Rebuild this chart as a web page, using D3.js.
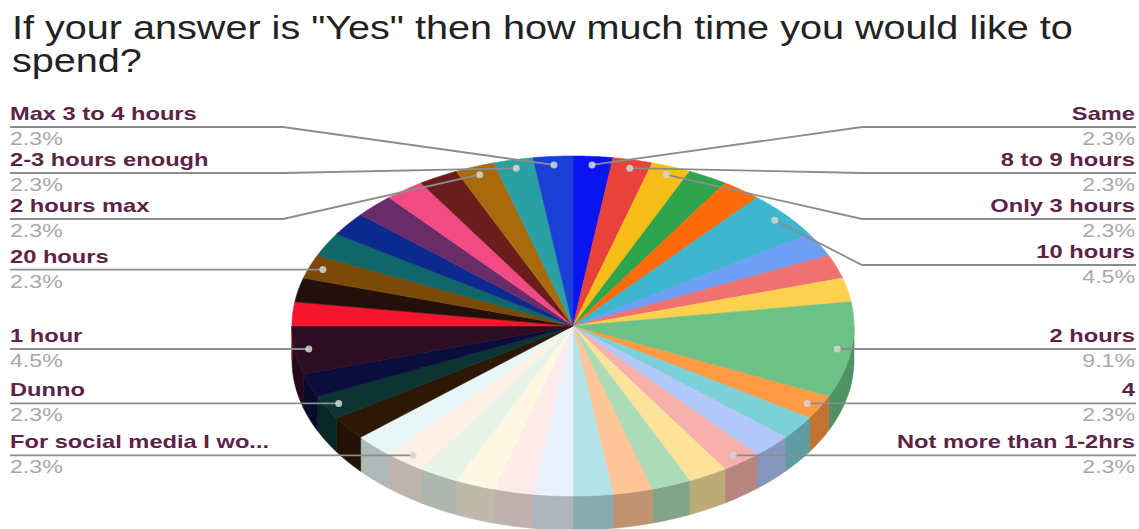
<!DOCTYPE html>
<html>
<head>
<meta charset="utf-8">
<script src="https://cdn.jsdelivr.net/npm/d3@7"></script>
<style>
  html, body { margin: 0; padding: 0; background: #fff; }
  svg { display: block; }
  text { font-family: "Liberation Sans", Arial, sans-serif; }
</style>
</head>
<body>
<svg id="chart" width="1139" height="529"></svg>
<script>
// answers in the order they go round the pie (clockwise from 12 o'clock)
// null = answer too small to get its own label
let answers = [
  'Same', '8 to 9 hours', 'Only 3 hours', null, null, '10 hours', null, null, null,
  '2 hours', '4', null, null, 'Not more than 1-2hrs', null, null, null, null,
  null, null, null, null, 'For social media I wo...', null, null, 'Dunno', null,
  '1 hour', null, null, '20 hours', null, null, null, null, null,
  '2 hours max', '2-3 hours enough', 'Max 3 to 4 hours'
];

let responses = [
  1, 1, 1, 1, 1, 2, 1, 1, 1,
  4, 1, 1, 1, 1, 1, 1, 1, 1,
  1, 1, 1, 1, 1, 1, 1, 1, 1,
  2, 1, 1, 1, 1, 1, 1, 1, 1,
  1, 1, 1
];

let sliceColors = [
  '#0a14f0', '#e8423a', '#f7bd18', '#2ea44c', '#ff6a0a', '#3fb6cf', '#6e9ff5', '#ef7270', '#fbd14f',
  '#6cc286', '#ff9a45', '#7cd0d7', '#b1c9fa', '#f6b1ac', '#fde29a', '#acdbb7', '#ffc497', '#b3e2e7',
  '#e9f1fd', '#fdeceb', '#fef7e2', '#e6f4e9', '#fff0e5', '#e8f6f7', '#2c1804', '#0b3433', '#0b0e3c',
  '#2d0d21', '#f5162e', '#24100b', '#7b4a09', '#10676a', '#0c2a8e', '#6a2c69', '#f24a82', '#6b1d1e',
  '#a96a0e', '#2aa0a2', '#1a3fd6'
];

let titleLines = ['If your answer is "Yes" then how much time you would like to', 'spend?'];

let svg = d3.select('#chart');

// title
svg.selectAll('text.title')
  .data(titleLines)
  .enter()
  .append('text')
  .attr('class', 'title')
  .attr('transform', (d, i) => 'translate(12,' + (39 + i * 33) + ') scale(1.2,1)')
  .attr('font-size', 33)
  .attr('fill', '#222')
  .text(d => d);

// 3d pie geometry
let cx = 573, cy = 326, rx = 281, ry = 170, depth = 34;
let px = a => cx + rx * Math.sin(a);
let py = a => cy - ry * Math.cos(a);

let arcPoints = (a0, a1, dy) => {
  let n = Math.max(2, Math.ceil((a1 - a0) / 0.01));
  return d3.range(n + 1).map(i => {
    let a = a0 + (a1 - a0) * i / n;
    return [px(a), py(a) + dy];
  });
};

let total = d3.sum(responses);
let pie = d3.pie().sort(null).value(d => d);
let slices = pie(responses).map((s, i) => ({
  name: answers[i],
  value: s.value,
  color: sliceColors[i],
  a0: s.startAngle,
  a1: s.endAngle
}));

let line = d3.line();
let shade = c => {
  let col = d3.rgb(c);
  return d3.rgb(col.r * 0.75, col.g * 0.75, col.b * 0.75).formatHex();
};

// side wall, only the front half shows
let sides = slices
  .map(s => ({ color: s.color, s: Math.max(s.a0, Math.PI / 2), e: Math.min(s.a1, Math.PI * 1.5) }))
  .filter(s => s.e > s.s);

svg.append('g')
  .selectAll('path')
  .data(sides)
  .enter()
  .append('path')
  .attr('d', s => line(arcPoints(s.s, s.e, 0).concat(arcPoints(s.s, s.e, depth).reverse())) + 'Z')
  .attr('fill', s => shade(s.color))
  .attr('stroke', s => shade(s.color))
  .attr('stroke-width', 0.6);

// top face
svg.append('g')
  .selectAll('path')
  .data(slices)
  .enter()
  .append('path')
  .attr('d', s => line([[cx, cy]].concat(arcPoints(s.a0, s.a1, 0))) + 'Z')
  .attr('fill', s => s.color)
  .attr('stroke', s => s.color)
  .attr('stroke-width', 0.6);

// labels: name above a leader line, percentage below
let labelled = slices.filter(s => s.name !== null).map(s => {
  let mid = (s.a0 + s.a1) / 2;
  return {
    name: s.name,
    pct: d3.format('.1f')(s.value / total * 100) + '%',
    right: mid < Math.PI,
    dx: cx + 0.95 * rx * Math.sin(mid),
    dy: cy - 0.95 * ry * Math.cos(mid)
  };
});

let gap = 46, minTop = 127;
let spread = items => {
  items.sort((a, b) => a.dy - b.dy);
  items.forEach(d => { d.ly = d.dy; });
  for (let k = 0; k < 200; k++) {
    for (let i = 1; i < items.length; i++) {
      let diff = items[i].ly - items[i - 1].ly;
      if (diff < gap) {
        let m = (gap - diff) / 2;
        items[i - 1].ly -= m;
        items[i].ly += m;
      }
    }
  }
  items.forEach((d, i) => {
    d.ly = i === 0 ? Math.max(d.ly, minTop) : Math.max(d.ly, items[i - 1].ly + gap);
  });
};
spread(labelled.filter(d => d.right));
spread(labelled.filter(d => !d.right));

let labels = svg.append('g')
  .selectAll('g')
  .data(labelled)
  .enter()
  .append('g');

labels.append('path')
  .attr('d', d => {
    let edge = d.right ? 1136 : 10;
    let elbow = d.right ? 862 : 283;
    return line([[edge, d.ly], [elbow, d.ly], [d.dx, d.dy]]);
  })
  .attr('fill', 'none')
  .attr('stroke', '#8c8c8c')
  .attr('stroke-width', 1.8);

labels.append('circle')
  .attr('cx', d => d.dx)
  .attr('cy', d => d.dy)
  .attr('r', 3.5)
  .attr('fill', '#d6d6d6')
  .attr('opacity', 0.85);

labels.append('text')
  .attr('transform', d => 'translate(' + (d.right ? 1135 : 10) + ',' + (d.ly - 7) + ') scale(1.28,1)')
  .attr('text-anchor', d => d.right ? 'end' : 'start')
  .attr('font-size', 18.5)
  .attr('font-weight', 'bold')
  .attr('fill', '#5c2346')
  .text(d => d.name);

labels.append('text')
  .attr('transform', d => 'translate(' + (d.right ? 1135 : 10) + ',' + (d.ly + 18) + ') scale(1.25,1)')
  .attr('text-anchor', d => d.right ? 'end' : 'start')
  .attr('font-size', 18.5)
  .attr('fill', '#a8a8a8')
  .text(d => d.pct);
</script>
</body>
</html>
